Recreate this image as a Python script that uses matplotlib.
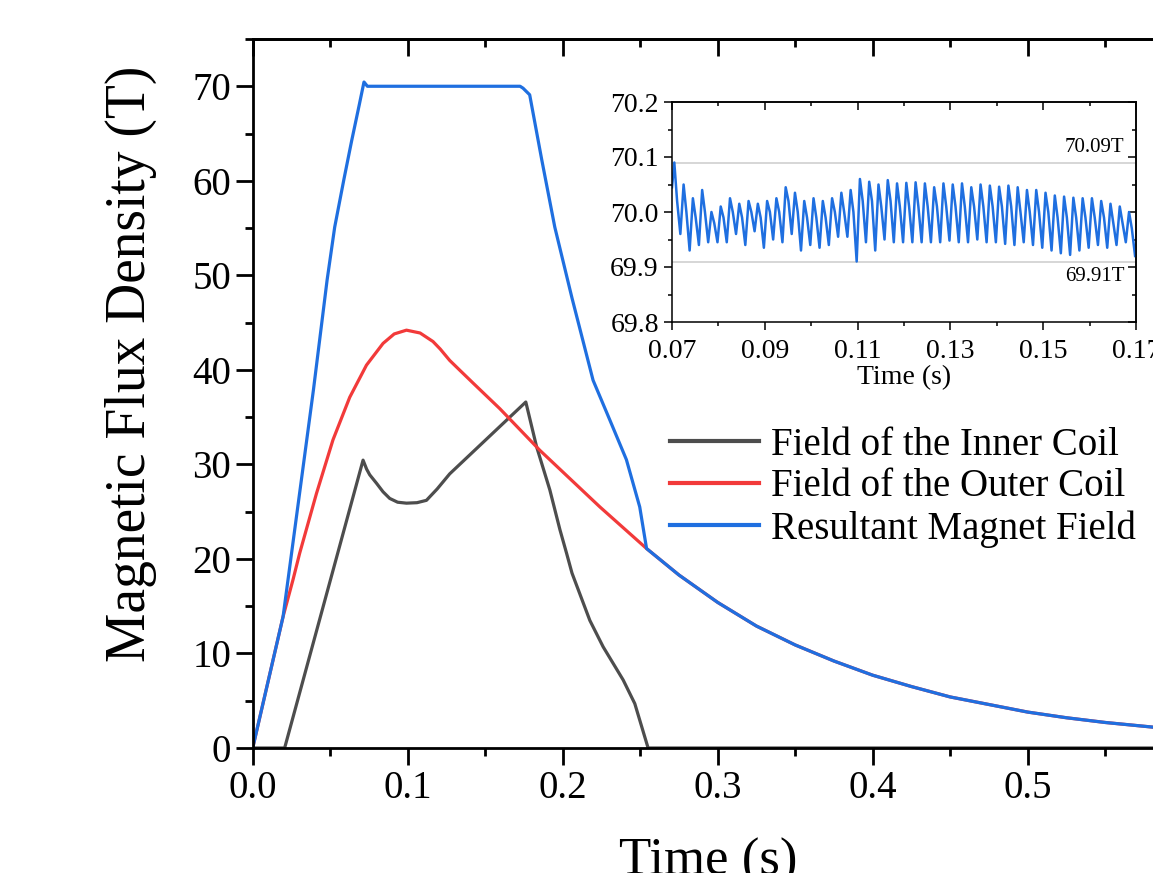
import matplotlib
matplotlib.use('Agg')
import matplotlib.pyplot as plt
from matplotlib.ticker import MultipleLocator, FormatStrFormatter
import numpy as np

plt.rcParams['font.family'] = ['Liberation Serif', 'DejaVu Serif']

# main curves (time in s, field in T)
t_res = [0, 0.0196, 0.0294, 0.0392, 0.048, 0.0529, 0.0589, 0.0638, 0.0687, 0.0718,
         0.074, 0.1, 0.15, 0.1725, 0.1744, 0.1787, 0.1864, 0.1949, 0.206, 0.2196,
         0.2304, 0.2411, 0.2497, 0.2541, 0.275, 0.3, 0.325, 0.35, 0.375, 0.4, 0.425,
         0.45, 0.475, 0.5, 0.525, 0.55, 0.575, 0.6]
b_res = [0, 13.9, 25.9, 37.9, 49.5, 55.1, 60.2, 64.2, 68.0, 70.45,
         70.0, 70.0, 70.0, 70.0, 69.8, 69.1, 62.3, 55.1, 47.6, 38.9,
         34.7, 30.5, 25.5, 21.1, 18.3, 15.4, 12.9, 10.9, 9.2, 7.7, 6.5,
         5.4, 4.6, 3.8, 3.2, 2.7, 2.3, 1.9]

t_out = [0, 0.0196, 0.026, 0.0303, 0.0411, 0.0518, 0.0626, 0.0734, 0.0841, 0.0913,
         0.0992, 0.108, 0.1163, 0.121, 0.1271, 0.134, 0.1422, 0.1594, 0.1852, 0.224, 0.2541,
         0.275, 0.3, 0.325, 0.35, 0.375, 0.4, 0.425, 0.45, 0.475, 0.5, 0.525, 0.55, 0.575, 0.6]
b_out = [0, 13.9, 17.8, 20.6, 26.9, 32.6, 37.1, 40.5, 42.8, 43.8,
         44.2, 43.9, 43.0, 42.2, 41.0, 39.9, 38.6, 35.9, 31.5, 25.5, 21.1,
         18.3, 15.4, 12.9, 10.9, 9.2, 7.7, 6.5, 5.4, 4.6, 3.8, 3.2, 2.7, 2.3, 1.9]

t_in = [0, 0.0206, 0.0712, 0.0735, 0.0755, 0.0799, 0.0841, 0.0884, 0.0935, 0.0992, 0.106,
        0.1121, 0.119, 0.1271, 0.1594, 0.1762, 0.1831, 0.1917, 0.1982, 0.2025, 0.206,
        0.2175, 0.2261, 0.239, 0.2465, 0.2551, 0.6]
b_in = [0, 0, 30.45, 29.5, 28.9, 28.0, 27.1, 26.4, 26.0, 25.9, 25.95,
        26.2, 27.4, 29.0, 34.0, 36.6, 31.9, 27.3, 23.1, 20.6, 18.5,
        13.5, 10.7, 7.2, 4.7, 0, 0]

x_ticks = [0.0, 0.1, 0.2, 0.3, 0.4, 0.5]

# ripple on the flat top, one entry per cycle (period 2 ms from 0.0705 s)
ripple_peak = [70.09, 70.05, 70.025, 70.04, 70.0, 70.01, 70.025, 70.015, 70.02, 70.015,
               70.02, 70.025, 70.045, 70.035, 70.02, 70.025, 70.02, 70.025, 70.035, 70.04,
               70.06, 70.055, 70.05, 70.058, 70.052, 70.053, 70.054, 70.052, 70.045, 70.052,
               70.05, 70.052, 70.045, 70.05, 70.048, 70.046, 70.048, 70.045, 70.04, 70.04,
               70.035, 70.03, 70.028, 70.026, 70.025, 70.025, 70.02, 70.015, 70.01, 70.0]
ripple_shoulder = [70.02, 70.0, 69.99, 70.0, 69.98, 69.99, 70.0, 69.99, 70.0, 69.99,
                   70.0, 70.0, 70.02, 70.0, 69.99, 69.99, 69.99, 70.0, 70.0, 70.0,
                   70.02, 70.02, 70.01, 70.02, 70.01, 70.01, 70.01, 70.01, 70.01, 70.01,
                   70.01, 70.01, 70.01, 70.01, 70.01, 70.01, 70.01, 70.0, 70.0, 70.0,
                   70.0, 69.99, 69.99, 69.99, 69.99, 69.99, 69.99, 69.98, 69.98, 69.97]
ripple_trough = [69.96, 69.93, 69.94, 69.945, 69.945, 69.945, 69.96, 69.94, 69.965, 69.935,
                 69.95, 69.945, 69.96, 69.93, 69.94, 69.935, 69.94, 69.955, 69.955, 69.91,
                 69.945, 69.93, 69.95, 69.945, 69.945, 69.945, 69.945, 69.945, 69.945, 69.948,
                 69.945, 69.945, 69.95, 69.945, 69.945, 69.942, 69.94, 69.945, 69.94, 69.935,
                 69.93, 69.925, 69.922, 69.93, 69.935, 69.94, 69.935, 69.94, 69.945, 69.92]

c_in = '#4d4d4d'
c_out = '#f23a3a'
c_res = '#1f6fe0'

fig = plt.figure(figsize=(11.53, 8.73), dpi=100)
ax = fig.add_axes([252.7 / 1153, 1 - 748 / 873, 930 / 1153, 709 / 873])

ax.plot(t_in, b_in, color=c_in, lw=2.3, label='Field of the Inner Coil', solid_joinstyle='round')
ax.plot(t_out, b_out, color=c_out, lw=2.3, label='Field of the Outer Coil', solid_joinstyle='round')
ax.plot(t_res, b_res, color=c_res, lw=2.3, label='Resultant Magnet Field', solid_joinstyle='round')

ax.set_xlim(0, 0.6)
ax.set_ylim(0, 75)
ax.set_xticks(x_ticks)
ax.xaxis.set_minor_locator(MultipleLocator(0.05))
ax.yaxis.set_major_locator(MultipleLocator(10))
ax.yaxis.set_minor_locator(MultipleLocator(5))
ax.xaxis.set_major_formatter(FormatStrFormatter('%.1f'))
ax.tick_params(which='both', direction='out', width=2, labelsize=28, top=False, right=False)
ax.tick_params(which='major', length=12)
ax.tick_params(which='minor', length=6)
for s in ax.spines.values():
    s.set_linewidth(2)
ax.spines['right'].set_visible(False)

# top ticks point inward
top = ax.secondary_xaxis('top')
top.xaxis.set_major_locator(MultipleLocator(0.1))
top.xaxis.set_minor_locator(MultipleLocator(0.05))
top.tick_params(which='both', direction='in', width=2, labeltop=False)
top.tick_params(which='major', length=12)
top.tick_params(which='minor', length=6)
top.spines['top'].set_linewidth(2)

ax.set_ylabel('Magnetic Flux Density (T)', fontsize=40)
ax.yaxis.set_label_coords(-0.103, 0.542)
ax.set_xlabel('Time (s)', fontsize=38)
ax.xaxis.set_label_coords(0.49, -0.127)

leg = ax.legend(loc='upper left', bbox_to_anchor=(0.432, 0.475), fontsize=28, frameon=False,
                handlelength=2.3, handletextpad=0.3, labelspacing=0.12, borderaxespad=0)
for line in leg.get_lines():
    line.set_linewidth(3)

# inset with the flat-top ripple
axi = fig.add_axes([672 / 1153, 1 - 322 / 873, 464 / 1153, 220 / 873])
rt = [0.07]
rv = [70.045]
for i in range(len(ripple_peak)):
    t0 = 0.0705 + 0.002 * i
    rt += [t0, t0 + 0.0006, t0 + 0.0013]
    rv += [ripple_peak[i], ripple_shoulder[i], ripple_trough[i]]
axi.plot(rt, rv, color=c_res, lw=1.8, solid_joinstyle='round')
axi.axhline(70.09, color='#cfcfcf', lw=1.2, zorder=0)
axi.axhline(69.91, color='#cfcfcf', lw=1.2, zorder=0)
axi.text(0.1675, 70.1, '70.09T', fontsize=15, ha='right', va='bottom')
axi.text(0.1675, 69.9, '69.91T', fontsize=15, ha='right', va='top')

axi.set_xlim(0.07, 0.17)
axi.set_ylim(69.8, 70.2)
axi.xaxis.set_major_locator(MultipleLocator(0.02, offset=0.01))
axi.xaxis.set_minor_locator(MultipleLocator(0.01))
axi.yaxis.set_major_locator(MultipleLocator(0.1))
axi.yaxis.set_minor_locator(MultipleLocator(0.05))
axi.xaxis.set_major_formatter(FormatStrFormatter('%.2f'))
axi.yaxis.set_major_formatter(FormatStrFormatter('%.1f'))
axi.tick_params(which='both', direction='out', labelsize=20, width=1.1)
axi.tick_params(axis='x', pad=6)
axi.tick_params(which='major', length=6)
axi.tick_params(which='minor', length=3)
for s in axi.spines.values():
    s.set_linewidth(1.1)
# mirrored ticks on top/right point inward
for side in ['top', 'right']:
    sec = axi.secondary_xaxis('top') if side == 'top' else axi.secondary_yaxis('right')
    ax_ = sec.xaxis if side == 'top' else sec.yaxis
    if side == 'top':
        ax_.set_major_locator(MultipleLocator(0.02, offset=0.01))
        ax_.set_minor_locator(MultipleLocator(0.01))
    else:
        ax_.set_major_locator(MultipleLocator(0.1))
        ax_.set_minor_locator(MultipleLocator(0.05))
    sec.tick_params(which='both', direction='in', width=1.1, labeltop=False, labelright=False)
    sec.tick_params(which='major', length=6)
    sec.tick_params(which='minor', length=3)
    sec.spines[side].set_linewidth(1.1)
axi.set_xlabel('Time (s)', fontsize=20, labelpad=1)

fig.savefig('out.png', dpi=100)
